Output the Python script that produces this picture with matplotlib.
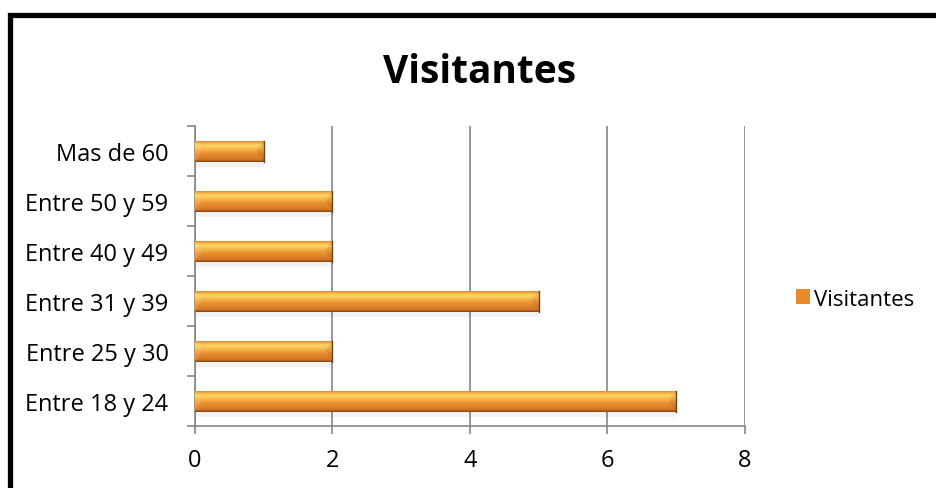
import matplotlib
matplotlib.use("Agg")
import matplotlib.pyplot as plt
import numpy as np
from matplotlib.colors import LinearSegmentedColormap
from matplotlib.patches import Rectangle, Polygon

categories = ["Entre 18 y 24", "Entre 25 y 30", "Entre 31 y 39", "Entre 40 y 49", "Entre 50 y 59", "Mas de 60"]
values = [7, 2, 5, 2, 2, 1]
series_name = "Visitantes"
title = "Visitantes"
xticks = [0, 2, 4, 6, 8]

plt.rcParams['font.family'] = ['Open Sans', 'DejaVu Sans']

fig = plt.figure(figsize=(9.37, 4.89), dpi=100)
ax = fig.add_axes([195/937, 62/489, 550/937, 300/489])

y = np.arange(len(categories))
bars = ax.barh(y, values, height=0.42, color="#E8892A", edgecolor="none", label=series_name, zorder=3)

cmap = LinearSegmentedColormap.from_list("bevel", [
    (0.0, "#E07E22"), (0.08, "#F6AE42"), (0.22, "#FDD868"), (0.4, "#F6B247"),
    (0.6, "#E88C2F"), (0.85, "#D97B28"), (0.93, "#B8661F"), (1.0, "#6E3A12")])
grad = np.linspace(0, 1, 256).reshape(-1, 1)
d = 7 / 68.75
for b in bars:
    x0, y0 = b.get_x(), b.get_y()
    w, h = b.get_width(), b.get_height()
    im = ax.imshow(grad, extent=[x0, x0 + w, y0, y0 + h], origin="upper",
                   aspect="auto", cmap=cmap, zorder=4, interpolation="bicubic")
    im.set_clip_path(b)
    # end bevels
    ax.add_patch(Polygon([(x0, y0), (x0 + d, y0 + h / 2), (x0, y0 + h)], closed=True,
                         facecolor="#FFE9A0", alpha=0.18, edgecolor="none", zorder=5))
    ax.add_patch(Polygon([(x0 + w, y0), (x0 + w - d, y0 + h / 2), (x0 + w, y0 + h)], closed=True,
                         facecolor="#7A3F10", alpha=0.15, edgecolor="none", zorder=5))
    ax.plot([x0 + w, x0 + w], [y0, y0 + h], color="#7A3F10", linewidth=1, zorder=6)
    # shadow
    ax.add_patch(Rectangle((x0, y0 - 0.1), w, 0.1, facecolor="#000000", alpha=0.05,
                           edgecolor="none", zorder=2))

ax.set_xlim(0, 8)
ax.set_ylim(-0.5, len(categories) - 0.5)
ax.set_xticks(xticks)
ax.set_xticklabels([str(t) for t in xticks], fontsize=17)
ax.set_yticks(y)
ax.set_yticklabels(categories, fontsize=17)
ax.set_yticks(np.arange(-0.5, len(categories), 1), minor=True)
ax.tick_params(axis="y", which="major", length=0, pad=19)
ax.tick_params(axis="y", which="minor", length=6, color="#868686", width=1.2)
ax.tick_params(axis="x", which="major", length=6, color="#868686", width=1.2, pad=10)
ax.grid(axis="x", color="#868686", linewidth=1.2, zorder=0)
ax.set_axisbelow(True)
for s in ["top", "right"]:
    ax.spines[s].set_visible(False)
for s in ["left", "bottom"]:
    ax.spines[s].set_color("#868686")
    ax.spines[s].set_linewidth(1.2)

fig.text(480/937, 1 - 83/489, title, ha="center", va="baseline", fontsize=28, fontweight="bold")

leg = fig.legend(handles=[bars], labels=[series_name], loc="center left",
                 bbox_to_anchor=(796/937, 1 - 300/489), frameon=False, fontsize=16,
                 handlelength=0.65, handleheight=0.65, handletextpad=0.15,
                 borderpad=0, borderaxespad=0)

# outer frame
fig.add_artist(Rectangle((10/937, -0.1), 1.2, 1 - 16/489 + 0.1, transform=fig.transFigure,
                         facecolor="none", edgecolor="black", linewidth=3.8, zorder=10))

fig.savefig("out.png", dpi=100)
